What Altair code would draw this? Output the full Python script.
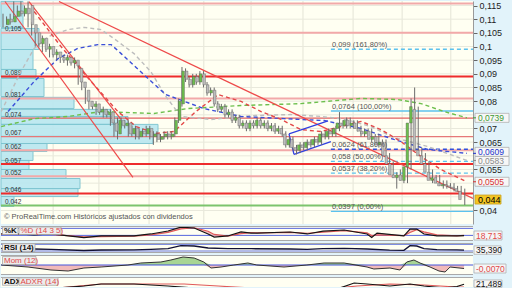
import altair as alt
import pandas as pd

FONT = "Liberation Sans"
W = 472
H_MAIN = 223
X_DOMAIN = [-0.56, 131.3]
Y_DOMAIN = [0.03505, 0.11665]

# ---------------- candles (one per session) ----------------
opens = [
    0.108, 0.110, 0.109, 0.111, 0.113, 0.112, 0.114, 0.115, 0.108, 0.105,
    0.101, 0.103, 0.099, 0.100, 0.097, 0.098, 0.096, 0.095, 0.096, 0.094,
    0.095, 0.092, 0.087, 0.084, 0.080, 0.078, 0.079, 0.076, 0.077, 0.075,
    0.076, 0.072, 0.068, 0.073, 0.071, 0.072, 0.068, 0.070, 0.067, 0.069,
    0.068, 0.070, 0.067, 0.068, 0.066, 0.067, 0.068, 0.067, 0.068, 0.073,
    0.079, 0.091, 0.088, 0.086, 0.089, 0.087, 0.090, 0.086, 0.083, 0.084,
    0.079, 0.077, 0.078, 0.075, 0.076, 0.073, 0.074, 0.071, 0.072, 0.070,
    0.072, 0.071, 0.073, 0.071, 0.072, 0.070, 0.071, 0.069, 0.070, 0.068,
    0.064, 0.066, 0.063, 0.062, 0.064, 0.063, 0.065, 0.064, 0.066, 0.065,
    0.068, 0.067, 0.069, 0.068, 0.070, 0.072, 0.071, 0.073, 0.071, 0.072,
    0.070, 0.069, 0.068, 0.069, 0.066, 0.067, 0.064, 0.065, 0.060, 0.057,
    0.053, 0.052, 0.053, 0.051, 0.056, 0.072, 0.077, 0.062, 0.060, 0.057,
    0.054, 0.051, 0.052, 0.050, 0.049, 0.0495, 0.049, 0.0485, 0.048, 0.047,
]
closes = [
    0.110, 0.109, 0.111, 0.113, 0.112, 0.114, 0.112, 0.108, 0.105, 0.101,
    0.103, 0.099, 0.100, 0.097, 0.098, 0.096, 0.095, 0.096, 0.094, 0.095,
    0.093, 0.087, 0.085, 0.080, 0.078, 0.079, 0.076, 0.077, 0.075, 0.076,
    0.072, 0.069, 0.073, 0.071, 0.072, 0.068, 0.070, 0.067, 0.069, 0.068,
    0.070, 0.067, 0.068, 0.066, 0.067, 0.068, 0.067, 0.068, 0.073, 0.080,
    0.091, 0.088, 0.086, 0.089, 0.087, 0.090, 0.086, 0.083, 0.084, 0.079,
    0.077, 0.078, 0.075, 0.076, 0.073, 0.074, 0.071, 0.072, 0.070, 0.072,
    0.071, 0.073, 0.071, 0.072, 0.070, 0.071, 0.069, 0.070, 0.068, 0.064,
    0.066, 0.063, 0.062, 0.064, 0.063, 0.065, 0.064, 0.066, 0.065, 0.068,
    0.067, 0.069, 0.068, 0.070, 0.072, 0.071, 0.073, 0.071, 0.072, 0.070,
    0.069, 0.068, 0.069, 0.066, 0.067, 0.064, 0.065, 0.060, 0.057, 0.053,
    0.052, 0.053, 0.051, 0.056, 0.072, 0.078, 0.062, 0.060, 0.057, 0.054,
    0.051, 0.052, 0.050, 0.049, 0.0495, 0.049, 0.0485, 0.048, 0.047, 0.044,
]
highs = [
    0.112, 0.111, 0.112, 0.1165, 0.115, 0.1165, 0.115, 0.1165, 0.109, 0.106,
    0.105, 0.104, 0.101, 0.101, 0.099, 0.099, 0.097, 0.097, 0.097, 0.096,
    0.096, 0.093, 0.088, 0.085, 0.081, 0.080, 0.080, 0.078, 0.078, 0.077,
    0.077, 0.073, 0.074, 0.074, 0.073, 0.073, 0.071, 0.071, 0.070, 0.070,
    0.071, 0.071, 0.069, 0.069, 0.068, 0.069, 0.069, 0.069, 0.074, 0.081,
    0.0925, 0.092, 0.089, 0.090, 0.090, 0.091, 0.091, 0.087, 0.085, 0.085,
    0.080, 0.079, 0.079, 0.077, 0.077, 0.075, 0.075, 0.073, 0.073, 0.073,
    0.073, 0.074, 0.074, 0.073, 0.073, 0.072, 0.072, 0.071, 0.071, 0.069,
    0.067, 0.067, 0.064, 0.065, 0.065, 0.066, 0.066, 0.067, 0.067, 0.069,
    0.069, 0.070, 0.070, 0.071, 0.076, 0.073, 0.074, 0.074, 0.073, 0.073,
    0.071, 0.070, 0.070, 0.070, 0.068, 0.068, 0.066, 0.066, 0.061, 0.058,
    0.054, 0.055, 0.054, 0.057, 0.081, 0.085, 0.078, 0.063, 0.061, 0.058,
    0.055, 0.053, 0.053, 0.051, 0.051, 0.050, 0.050, 0.049, 0.049, 0.048,
]
lows = [
    0.107, 0.108, 0.108, 0.110, 0.111, 0.111, 0.111, 0.107, 0.104, 0.100,
    0.100, 0.098, 0.098, 0.096, 0.096, 0.095, 0.094, 0.094, 0.093, 0.093,
    0.092, 0.086, 0.084, 0.079, 0.077, 0.077, 0.075, 0.075, 0.074, 0.074,
    0.071, 0.067, 0.066, 0.070, 0.070, 0.067, 0.067, 0.066, 0.066, 0.067,
    0.067, 0.066, 0.064, 0.065, 0.065, 0.066, 0.066, 0.066, 0.067, 0.072,
    0.078, 0.087, 0.085, 0.085, 0.086, 0.086, 0.085, 0.082, 0.082, 0.078,
    0.076, 0.076, 0.074, 0.074, 0.072, 0.072, 0.070, 0.070, 0.069, 0.069,
    0.070, 0.070, 0.070, 0.070, 0.069, 0.069, 0.068, 0.068, 0.067, 0.063,
    0.063, 0.062, 0.0605, 0.061, 0.062, 0.062, 0.063, 0.063, 0.064, 0.064,
    0.066, 0.066, 0.067, 0.067, 0.069, 0.070, 0.070, 0.070, 0.070, 0.069,
    0.067, 0.067, 0.067, 0.065, 0.065, 0.063, 0.063, 0.059, 0.056, 0.052,
    0.048, 0.051, 0.050, 0.050, 0.055, 0.071, 0.061, 0.059, 0.056, 0.053,
    0.050, 0.050, 0.049, 0.048, 0.048, 0.048, 0.047, 0.047, 0.046, 0.042,
]

# ---------------- volume profile ----------------
vp_lo = [0.1070, 0.0989, 0.0916, 0.0887, 0.0817, 0.0773, 0.0744, 0.0715, 0.0671,
         0.0645, 0.0616, 0.0583, 0.0550, 0.0517, 0.0480, 0.0451, 0.0415]
vp_hi = [0.1165, 0.1066, 0.0989, 0.0916, 0.0883, 0.0814, 0.0770, 0.0744, 0.0715,
         0.0671, 0.0645, 0.0616, 0.0583, 0.0550, 0.0517, 0.0480, 0.0451]
vp_vol = [220, 380, 320, 350, 430, 730, 1100, 1270, 1570, 1520, 460, 320, 280,
          650, 790, 770, 130]
VOL_DOMAIN = [0, 4720]

vp_label_price = [0.105, 0.089, 0.081, 0.0738, 0.067, 0.062, 0.057, 0.0525, 0.0462, 0.0418]
vp_label_text = ["0,105", "0,089", "0,081", "0,074", "0,067", "0,062", "0,057", "0,052", "0,046", "0,042"]

# ---------------- horizontal levels ----------------
lvl_price = [0.1157, 0.105, 0.089, 0.081, 0.0738, 0.067, 0.062, 0.057, 0.0525, 0.0462, 0.0418]
lvl_color = ["#f2a9a9", "#f2a9a9", "#ee2b2b", "#f2a9a9", "#e26060", "#e67878",
             "#f2a9a9", "#ee2b2b", "#f2a9a9", "#ee2b2b", "#7cc46c"]
lvl_width = [2, 2, 2, 2, 1.2, 1.2, 2, 2, 2, 2, 2]

# ---------------- fibonacci ----------------
fib_price = [0.099, 0.0764, 0.0624, 0.058, 0.0537, 0.0397]
fib_text = ["0,099 (161,80%)", "0,0764 (100,00%)", "0,0624 (61,80%)",
            "0,058 (50,00%)", "0,0537 (38,20%)", "0,0397 (0,00%)"]
fib_dashed = [True, False, True, True, True, False]
fib_color = ["#5cc2ee", "#5cc2ee", "#3250da", "#5cc2ee", "#5cc2ee", "#5cc2ee"]
fib_start = 91.6
fib_end = 131.3

# ---------------- gridlines ----------------
vgrid_idx = [14.0, 26.8, 40.8, 56.1, 69.3, 83.8, 97.8, 111.5, 125.1]
hgrid_vals = [0.04, 0.045, 0.05, 0.055, 0.06, 0.065, 0.07, 0.075, 0.08, 0.085,
              0.09, 0.095, 0.1, 0.105, 0.11, 0.115]
axis_vals = [0.115, 0.11, 0.105, 0.1, 0.095, 0.09, 0.085, 0.08, 0.07, 0.065, 0.055, 0.04]

# ---------------- moving averages ----------------
ma_blue_i = [1.4, 8.7, 15.4, 20.9, 26.5, 30.2, 33.0, 39.9, 45.5, 56.1, 66.5, 78.5,
             89.7, 100.0, 109.2, 118.7, 129.6]
ma_blue_p = [0.0762, 0.0872, 0.0956, 0.0993, 0.1007, 0.1007, 0.0974, 0.0890, 0.0824,
             0.0773, 0.0744, 0.0736, 0.0729, 0.0700, 0.0660, 0.0623, 0.0609]
ma_gray_i = [-0.5, 5.0, 8.7, 12.8, 18.2, 22.6, 27.4, 31.0, 36.6, 41.3, 45.5, 49.7,
             58.1, 69.3, 80.4, 88.8, 95.8, 102.8, 109.2, 118.7, 129.6]
ma_gray_p = [0.0762, 0.0908, 0.0993, 0.1037, 0.1062, 0.1070, 0.1062, 0.1029, 0.0974,
             0.0908, 0.0817, 0.0744, 0.0733, 0.0747, 0.0751, 0.0744, 0.0733, 0.0707,
             0.0667, 0.0634, 0.0583]
ma_red_i = [8.7, 16.2, 24.6, 32.1, 37.2, 42.7, 47.8, 53.9, 60.1, 66.5, 72.1, 77.7,
            83.2, 88.8, 94.4, 100.0, 105.6, 111.2, 116.8, 122.3, 129.6]
ma_red_p = [0.1128, 0.1000, 0.0872, 0.0762, 0.0707, 0.0682, 0.0689, 0.0762, 0.0824,
            0.0799, 0.0762, 0.0733, 0.0696, 0.0689, 0.0707, 0.0726, 0.0696, 0.0652,
            0.0597, 0.0550, 0.0505]
ma_green_i = [-0.5, 8.7, 18.2, 27.4, 42.2, 51.7, 66.5, 83.2, 100.0, 110.3, 116.8,
              123.2, 129.6]
ma_green_p = [0.0707, 0.0736, 0.0744, 0.0762, 0.0755, 0.0773, 0.0784, 0.0791, 0.0810,
              0.0806, 0.0791, 0.0762, 0.0739]

# ---------------- trend lines ----------------
tl_id = ["a", "a", "b", "b", "c", "c"]
tl_i = [0.56, 36.3, 7.26, 32.96, 15.64, 131.3]
tl_p = [0.11646, 0.0521, 0.11646, 0.0733, 0.11646, 0.0444]
tri_id = ["u", "u", "l", "l", "s", "s"]
tri_i = [79.9, 90.8, 81.3, 91.6, 79.9, 81.3]
tri_p = [0.0680, 0.0728, 0.0605, 0.0652, 0.0680, 0.0605]

# ---------------- last values on the price axis ----------------
box_val = [0.0739, 0.0609, 0.0583, 0.0505]
box_txt = ["0,0739", "0,0609", "0,0583", "0,0505"]
box_col = ["#3d9b35", "#2233cc", "#8a8a8a", "#d83030"]
box_nudge = [0, -1.5, 0.5, 0]
last_val = [0.044]
last_txt = ["0,044"]

# ---------------- indicators ----------------
k_i = [-0.5, 4.2, 8.7, 13.4, 22.6, 27.4, 36.6, 41.3, 46.1, 49.7, 53.4, 57.3, 59.0,
       62.8, 66.5, 69.3, 71.0, 80.2, 85.0, 89.4, 95.3, 101.7, 103.0, 104.5, 112.0,
       113.7, 115.6, 117.6, 121.2, 126.8, 128.8]
k_v = [32, 32, 23, 32, 0, 15, 15, 32, 57, 91, 83, 32, 6, 15, 49, 40, 40, 49, 32, 57,
       66, 32, 2, 40, 15, 74, 74, 32, 15, 15, 18.7]
d_v = [30, 31, 28, 28, 8, 10, 14, 25, 45, 75, 85, 55, 28, 14, 35, 43, 42, 45, 38, 48,
       60, 42, 18, 25, 18, 45, 68, 50, 25, 16, 20]

r_i = [-0.5, 8.7, 13.4, 22.6, 27.4, 36.6, 41.3, 46.1, 49.7, 53.4, 57.3, 62.8, 69.3,
       80.2, 85.0, 89.4, 95.3, 101.7, 108.0, 112.0, 113.7, 115.6, 117.6, 121.2, 126.8, 128.8]
r_v = [45, 42, 40, 33, 36, 37, 40, 44, 62, 60, 48, 44, 44, 42, 40, 44, 46, 42, 35, 34,
       62, 60, 44, 38, 37, 35.4]

m_i = [-0.5, 7.0, 13.4, 18.2, 22.6, 27.4, 34.9, 38.5, 44.1, 46.9, 50.3, 53.4, 56.1,
       58.1, 60.9, 64.5, 68.4, 70.9, 78.5, 84.9, 89.7, 95.3, 101.7, 103.6, 108.1,
       110.9, 112.8, 114.8, 116.5, 119.3, 121.8, 123.5, 124.9, 128.8]
m_v = [0, -0.004, -0.010, -0.012, -0.006, -0.004, 0, 0.004, 0.006, 0.010, 0.016,
       0.014, 0.006, -0.006, -0.004, 0, 0.004, 0, -0.004, 0, 0.004, 0.004, -0.004,
       -0.008, -0.006, -0.010, 0.006, 0.010, 0.004, -0.004, -0.012, -0.014, -0.004, -0.007]

adx_i = [-0.5, 13.4, 22.6, 27.4, 36.6, 46.1, 53.4, 62.0, 75.0, 90.0, 94.1, 98.1,
         101.7, 108.1, 113.7, 117.6, 123.2, 126.8, 128.8]
adx_v = [12, 13, 18, 22, 22, 18, 14, 12, 11, 12, 14, 24, 22, 18, 22, 18, 14, 17, 21.5]
adxr_i = [-0.5, 15.4, 27.4, 41.3, 50.6, 60.1, 69.3, 80.0, 90.0, 98.9, 108.1, 117.6,
          126.8, 128.8]
adxr_v = [12, 14, 22, 22, 22, 18, 14, 12, 12, 18, 22, 20, 16, 16]

# ======================================================================
CREAM = "#fffff2"


def X(field, dom=X_DOMAIN):
    return alt.X(field, type="quantitative",
                 scale=alt.Scale(domain=dom, nice=False, zero=False), axis=None)


yaxis = alt.Axis(orient="right", values=axis_vals,
                 labelExpr="replace(format(datum.value, '.3~f'), '.', ',')",
                 grid=False, title=None, tickSize=4, tickColor="#666666",
                 domainColor="#9a9a9a", labelFontSize=9, labelColor="#222222",
                 labelFont=FONT, labelPadding=2, minExtent=39, maxExtent=39,
                 labelOverlap=False, labelFlush=False)


def Y(field):
    return alt.Y(field, type="quantitative",
                 scale=alt.Scale(domain=Y_DOMAIN, nice=False, zero=False), axis=yaxis)


candles = pd.DataFrame({"i": list(range(len(closes))), "o": opens, "c": closes,
                        "h": highs, "l": lows})
candles["dir"] = ["up" if c >= o else "down" for o, c in zip(opens, closes)]

vgrid = alt.Chart(pd.DataFrame({"i": vgrid_idx})).mark_rule(
    color="#e4e4d6", strokeWidth=1).encode(x=X("i"))
hgrid = alt.Chart(pd.DataFrame({"p": hgrid_vals})).mark_rule(
    color="#e9e9dc", strokeWidth=1).encode(y=Y("p"))

vp_df = pd.DataFrame({"lo": vp_lo, "hi": vp_hi, "vol": vp_vol})
vol = alt.Chart(vp_df).mark_rect(fill="#bce8f0", stroke="#7cc4d0", strokeWidth=1,
                                 opacity=0.95).encode(
    x=alt.X("vol:Q", scale=alt.Scale(domain=VOL_DOMAIN, nice=False, zero=False), axis=None),
    x2=alt.datum(0), y=Y("lo"), y2="hi")

vol_lbl = alt.Chart(pd.DataFrame({"p": vp_label_price, "t": vp_label_text})).mark_text(
    align="left", baseline="alphabetic", dy=-1.5, fontSize=6.5, font=FONT,
    color="#333333").encode(x=alt.value(4), y=Y("p"), text="t:N")

levels = alt.Chart(pd.DataFrame({"p": lvl_price, "col": lvl_color, "w": lvl_width})).mark_rule().encode(
    y=Y("p"), color=alt.Color("col:N", scale=None),
    strokeWidth=alt.StrokeWidth("w:Q", scale=None))

fib_df = pd.DataFrame({"p": fib_price, "t": fib_text, "dashed": fib_dashed,
                       "col": fib_color, "x0": fib_start, "x1": fib_end})
fib_dash = alt.Chart(fib_df[fib_df["dashed"]]).mark_rule(strokeDash=[4, 3], strokeWidth=1.3).encode(
    x=X("x0"), x2="x1", y=Y("p"), color=alt.Color("col:N", scale=None))
fib_solid = alt.Chart(fib_df[~fib_df["dashed"]]).mark_rule(strokeWidth=1.3).encode(
    x=X("x0"), x2="x1", y=Y("p"), color=alt.Color("col:N", scale=None))
fib_lbl = alt.Chart(fib_df).mark_text(align="left", baseline="alphabetic", dx=1, dy=-2,
                                      fontSize=7.5, font=FONT, color="#555555").encode(
    x=X("x0"), y=Y("p"), text="t:N")

ma_df = pd.concat([
    pd.DataFrame({"i": ma_green_i, "p": ma_green_p, "name": "green"}),
    pd.DataFrame({"i": ma_gray_i, "p": ma_gray_p, "name": "gray"}),
    pd.DataFrame({"i": ma_blue_i, "p": ma_blue_p, "name": "blue"}),
    pd.DataFrame({"i": ma_red_i, "p": ma_red_p, "name": "red"}),
])
mas = alt.Chart(ma_df).mark_line(strokeDash=[4, 3], strokeWidth=1.4, clip=True).encode(
    x=X("i"), y=Y("p"), detail="name:N",
    color=alt.Color("name:N", legend=None,
                    scale=alt.Scale(domain=["green", "gray", "blue", "red"],
                                    range=["#6cbf4c", "#bdbdbd", "#3b4fd8", "#e34848"])))

trend = alt.Chart(pd.DataFrame({"id": tl_id, "i": tl_i, "p": tl_p})).mark_line(
    color="#ee4a4a", strokeWidth=1.2, clip=True).encode(x=X("i"), y=Y("p"), detail="id:N")
tri = alt.Chart(pd.DataFrame({"id": tri_id, "i": tri_i, "p": tri_p})).mark_line(
    color="#3040e0", strokeWidth=1.3, clip=True).encode(x=X("i"), y=Y("p"), detail="id:N")

wicks = alt.Chart(candles).mark_rule(color="#6b6b6b", strokeWidth=1, clip=True).encode(
    x=X("i"), y=Y("l"), y2="h")
bodies = alt.Chart(candles).mark_bar(size=2.6, clip=True, stroke="#555555",
                                     strokeWidth=0.4).encode(
    x=X("i"), y=Y("o"), y2="c",
    color=alt.Color("dir:N", legend=None,
                    scale=alt.Scale(domain=["up", "down"], range=["#3f9f3f", "#c04545"])))

copy_txt = alt.Chart(pd.DataFrame({"t": ["© ProRealTime.com  Históricos ajustados con dividendos"]})).mark_text(
    align="left", baseline="middle", fontSize=7.5, font=FONT, color="#555555").encode(
    x=alt.value(3), y=alt.value(216), text="t:N")


def axis_box(val, label, color, nudge):
    d = pd.DataFrame({"v": [val], "t": [label]})
    r = alt.Chart(d).mark_rect(fill="#f7f7f7", stroke="#b0b0b0", strokeWidth=0.8,
                               yOffset=-4.5 + nudge, y2Offset=4.5 + nudge).encode(
        x=alt.value(474), x2=alt.value(508), y=Y("v"), y2="v")
    tk = alt.Chart(d).mark_rule(strokeWidth=1, color=color).encode(
        x=alt.value(472), x2=alt.value(475), y=Y("v"))
    t = alt.Chart(d).mark_text(align="left", baseline="middle", fontSize=8.5, font=FONT,
                               color=color, dy=nudge).encode(
        x=alt.value(477), y=Y("v"), text="t:N")
    return [r, tk, t]


box_layers = []
for v, t, c, n in zip(box_val, box_txt, box_col, box_nudge):
    box_layers += axis_box(v, t, c, n)

last_df = pd.DataFrame({"v": last_val, "t": last_txt})
last_box = alt.Chart(last_df).mark_rect(fill="#f3c623", stroke="#c9a020", strokeWidth=0.8,
                                        yOffset=-4.5, y2Offset=4.5).encode(
    x=alt.value(474), x2=alt.value(500), y=Y("v"), y2="v")
last_text = alt.Chart(last_df).mark_text(align="left", baseline="middle", fontSize=9,
                                         font=FONT, color="#000000").encode(
    x=alt.value(477), y=Y("v"), text="t:N")

main = alt.layer(
    vgrid, hgrid, vol, vol_lbl, levels, fib_dash, fib_solid, mas, trend, tri,
    wicks, bodies, fib_lbl, copy_txt, *box_layers, last_box, last_text
).resolve_scale(x="independent").properties(
    width=W, height=H_MAIN, view=alt.ViewBackground(fill=CREAM, stroke="transparent"))


# ---------------- indicator panel helpers ----------------
def tag(text, x0, x1, y0, y1, color, bold):
    d = pd.DataFrame({"t": [text]})
    r = alt.Chart(d).mark_rect(fill="#ececec", stroke="#a8a8a8", strokeWidth=0.8).encode(
        x=alt.value(x0), x2=alt.value(x1), y=alt.value(y0), y2=alt.value(y1))
    t = alt.Chart(d).mark_text(align="left", baseline="middle", fontSize=8, font=FONT,
                               color=color, fontWeight="bold" if bold else "normal").encode(
        x=alt.value(x0 + 1.5), y=alt.value((y0 + y1) / 2 + 0.5), text="t:N")
    return [r, t]


def vbox(val, label, color, sc, x1, top=-4.5, bot=4.5):
    d = pd.DataFrame({"v": [val], "t": [label]})
    yy = alt.Y("v:Q", scale=sc, axis=None)
    r = alt.Chart(d).mark_rect(fill="#f6f6f6", stroke="#b0b0b0", strokeWidth=0.8,
                               yOffset=top, y2Offset=bot).encode(
        x=alt.value(473), x2=alt.value(x1), y=yy, y2="v:Q")
    t = alt.Chart(d).mark_text(align="left", baseline="middle", fontSize=8.5, font=FONT,
                               color=color).encode(x=alt.value(475), y=yy, text="t:N")
    return [r, t]


def borders(h):
    d = pd.DataFrame({"a": [0]})
    top = alt.Chart(d).mark_rule(color="#a9a9a9", strokeWidth=1).encode(y=alt.value(0.5))
    bot = alt.Chart(d).mark_rule(color="#a9a9a9", strokeWidth=1).encode(y=alt.value(h - 0.5))
    return [top, bot]


def panel(layers, h):
    return alt.layer(*layers).properties(
        width=W, height=h, view=alt.ViewBackground(fill=CREAM, stroke="transparent"))


# %K / %D
H_K = 15
ksc = alt.Scale(domain=[-28, 100], nice=False, zero=False)
kdf = pd.DataFrame({"i": k_i, "k": k_v, "d": d_v})
k_ref = alt.Chart(pd.DataFrame({"v": [80, 20]})).mark_rule(color="#5566dd", strokeWidth=1).encode(
    y=alt.Y("v:Q", scale=ksc, axis=None))
k_area = alt.Chart(kdf).mark_area(color="#f2b4b4", opacity=0.8, clip=True).encode(
    x=X("i"), y=alt.Y("k:Q", scale=ksc, axis=None), y2="d:Q")
d_line = alt.Chart(kdf).mark_line(color="#e05a5a", strokeWidth=1.2, clip=True).encode(
    x=X("i"), y=alt.Y("d:Q", scale=ksc, axis=None))
k_line = alt.Chart(kdf).mark_line(color="#151515", strokeWidth=1.2, clip=True).encode(
    x=X("i"), y=alt.Y("k:Q", scale=ksc, axis=None))
kpanel = panel([k_ref, k_area, d_line, k_line] + borders(H_K)
               + tag("%K", 1.5, 17, 1, 8.5, "#111111", True)
               + tag("%D (14 3 5)", 18, 60, 1, 8.5, "#e04848", False)
               + vbox(18.713, "18,713", "#e04848", ksc, 501), H_K)

# RSI
H_R = 10
rsc = alt.Scale(domain=[18, 78], nice=False, zero=False)
rdf = pd.DataFrame({"i": r_i, "r": r_v})
r_ref = alt.Chart(pd.DataFrame({"v": [70, 30]})).mark_rule(color="#6677dd", strokeWidth=1).encode(
    y=alt.Y("v:Q", scale=rsc, axis=None))
r_line = alt.Chart(rdf).mark_line(color="#101035", strokeWidth=1.4, clip=True).encode(
    x=X("i"), y=alt.Y("r:Q", scale=rsc, axis=None))
rpanel = panel([r_ref, r_line] + borders(H_R)
               + tag("RSI (14)", 1.5, 34, 0.8, 8.3, "#111111", True)
               + vbox(35.39, "35,390", "#111111", rsc, 500, -4.2, 4.2), H_R)

# Momentum
H_M = 20
msc = alt.Scale(domain=[-0.02, 0.02], nice=False, zero=False)
mdf = pd.DataFrame({"i": m_i, "m": m_v})
m_pos = alt.Chart(mdf).transform_calculate(pos="max(datum.m, 0)").mark_area(
    color="#9fd08a", opacity=0.9, clip=True).encode(
    x=X("i"), y=alt.Y("pos:Q", scale=msc, axis=None), y2=alt.datum(0))
m_neg = alt.Chart(mdf).transform_calculate(neg="min(datum.m, 0)").mark_area(
    color="#f0b2b2", opacity=0.9, clip=True).encode(
    x=X("i"), y=alt.Y("neg:Q", scale=msc, axis=None), y2=alt.datum(0))
m_zero = alt.Chart(pd.DataFrame({"v": [0]})).mark_rule(color="#4455dd", strokeWidth=1).encode(
    y=alt.Y("v:Q", scale=msc, axis=None))
m_line = alt.Chart(mdf).mark_line(color="#333333", strokeWidth=1, clip=True).encode(
    x=X("i"), y=alt.Y("m:Q", scale=msc, axis=None))
mpanel = panel([m_pos, m_neg, m_zero, m_line] + borders(H_M)
               + tag("Mom (12)", 1.5, 35, 1.5, 9.5, "#e04848", False)
               + vbox(-0.007, "-0,0070", "#e04848", msc, 505), H_M)

# ADX
H_A = 10
asc = alt.Scale(domain=[16, 36], nice=False, zero=False)
adx_df = pd.DataFrame({"i": adx_i, "a": adx_v})
adxr_df = pd.DataFrame({"i": adxr_i, "a": adxr_v})
adxr_line = alt.Chart(adxr_df).mark_line(color="#e05a5a", strokeWidth=1.2, clip=True).encode(
    x=X("i"), y=alt.Y("a:Q", scale=asc, axis=None))
adx_line = alt.Chart(adx_df).mark_line(color="#151515", strokeWidth=1.2, clip=True).encode(
    x=X("i"), y=alt.Y("a:Q", scale=asc, axis=None))
apanel = panel([adxr_line, adx_line] + borders(H_A)[:1]
               + tag("ADX", 1.5, 17, 0.8, 8.3, "#111111", True)
               + tag("ADXR (14)", 18, 57, 0.8, 8.3, "#e04848", False)
               + vbox(21.489, "21,489", "#111111", asc, 501, -4.3, 3.0), H_A)

chart = alt.vconcat(main, kpanel, rpanel, mpanel, apanel, spacing=2,
                    bounds="flush").resolve_scale(
    x="independent", y="independent").properties(
    background="#e2f3fa", padding=0).configure_view(strokeWidth=0)

chart.save("out.html", embed_options={"renderer": "svg", "actions": False})
